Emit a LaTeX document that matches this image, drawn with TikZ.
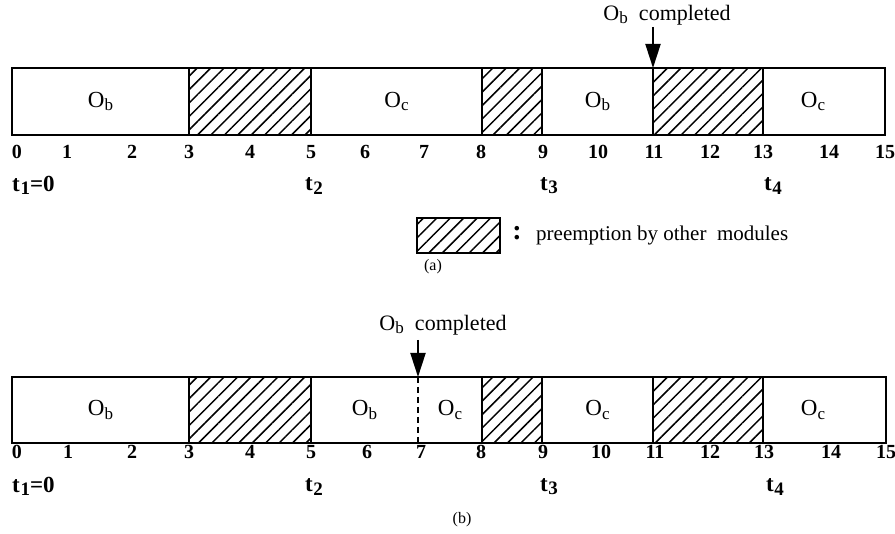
\documentclass[tikz,border=0pt]{standalone}
\usepackage{fontspec}
\setmainfont{Liberation Serif}
\usetikzlibrary{patterns.meta,arrows.meta}
\newcommand\Ob{O\kern0.01em\raisebox{-0.35ex}{\fontsize{17}{17}\selectfont b}}
\newcommand\Oc{O\kern0.01em\raisebox{-0.35ex}{\fontsize{17}{17}\selectfont c}}
\newcommand\tsub[1]{t\kern0.03em\raisebox{-0.3ex}{\fontsize{19}{19}\selectfont #1}}
\begin{document}
\begin{tikzpicture}[x=1pt,y=-1pt,
  seg/.style={minimum height=67pt, inner sep=0pt, outer sep=0pt, anchor=north west, font=\fontsize{23}{25}\selectfont},
  hatchbox/.style={seg, draw, line width=2.3pt, pattern={Lines[angle=45,distance=9.5pt,line width=1.5pt]}},
  barbox/.style={seg, draw, line width=2.5pt},
  num/.style={inner sep=0pt, font=\fontsize{20}{22}\selectfont\bfseries},
  tlab/.style={inner sep=0pt, font=\fontsize{23}{25}\selectfont\bfseries},
  txt/.style={inner sep=0pt, font=\fontsize{22}{24}\selectfont},
  pointer/.style={line width=2pt, -{Triangle[length=24pt,width=15pt]}}
]
\useasboundingbox (0,0) rectangle (895,534);

% ---------- panel (a) ----------
\node[barbox, minimum width=873pt] (barA) at (12,68) {};
\node[seg, minimum width=177pt] (a1) at (12,68) {\Ob};
\node[hatchbox, minimum width=122pt] (a2) at (189,68) {};
\node[seg, minimum width=171pt] (a3) at (311,68) {\Oc};
\node[hatchbox, minimum width=60pt] (a4) at (482,68) {};
\node[seg, minimum width=111pt] (a5) at (542,68) {\Ob};
\node[hatchbox, minimum width=110pt] (a6) at (653,68) {};
\node[seg, minimum width=100pt] (a7) at (763,68) {\Oc};

\node[txt] (ca) at (667,15) {\Ob\ \ completed};
\coordinate (ta) at (653,27);
\draw[pointer] (ta) -- (a6.north west);

\foreach \v/\xx in {0/17,1/67,2/132,3/189,4/250,5/311,6/365,7/424,8/481,9/543,10/598,11/654,12/710,13/763,14/829,15/885}
  \node[num] (na\v) at (\xx,152) {\v};

\node[tlab, anchor=west] (ta1) at (12,185) {\tsub{1}=0};
\node[tlab] (ta2) at (314,186) {\tsub{2}};
\node[tlab] (ta3) at (549,186) {\tsub{3}};
\node[tlab] (ta4) at (773,186) {\tsub{4}};

% legend
\node[hatchbox, minimum width=83pt, minimum height=35pt] (leg) at (417,218) {};
\node[inner sep=0pt, font=\fontsize{28}{28}\selectfont\bfseries] (colon) at (517,233) {:};
\node[inner sep=0pt, anchor=west, font=\fontsize{21}{23}\selectfont] (legtxt) at (536,235) {preemption by other\ \ modules};
\node[inner sep=0pt, font=\fontsize{16}{18}\selectfont] (capa) at (433,267) {(a)};

% ---------- panel (b) ----------
\node[barbox, minimum width=874pt, minimum height=66pt] (barB) at (12,377) {};
\node[seg, minimum width=177pt, minimum height=66pt] (b1) at (12,377) {\Ob};
\node[hatchbox, minimum width=122pt, minimum height=66pt] (b2) at (189,377) {};
\node[seg, minimum width=107pt, minimum height=66pt] (b3) at (311,377) {\Ob};
\node[seg, minimum width=64pt, minimum height=66pt] (b4) at (418,377) {\Oc};
\node[hatchbox, minimum width=60pt, minimum height=66pt] (b5) at (482,377) {};
\node[seg, minimum width=111pt, minimum height=66pt] (b6) at (542,377) {\Oc};
\node[hatchbox, minimum width=110pt, minimum height=66pt] (b7) at (653,377) {};
\node[seg, minimum width=100pt, minimum height=66pt] (b8) at (763,377) {\Oc};
\draw[line width=1.8pt, dash pattern=on 6pt off 4pt] (b4.north west) -- (b4.south west);

\node[txt] (cb) at (443,325) {\Ob\ \ completed};
\coordinate (tb) at (418,340);
\draw[pointer] (tb) -- (b4.north west);

\foreach \v/\xx in {0/17,1/68,2/132,3/189,4/250,5/311,6/367,7/421,8/481,9/543,10/601,11/655,12/710,13/764,14/831,15/886}
  \node[num] (nb\v) at (\xx,452) {\v};

\node[tlab, anchor=west] (tb1) at (12,486) {\tsub{1}=0};
\node[tlab] (tb2) at (314,487) {\tsub{2}};
\node[tlab] (tb3) at (549,487) {\tsub{3}};
\node[tlab] (tb4) at (775,487) {\tsub{4}};

\node[inner sep=0pt, font=\fontsize{16}{18}\selectfont] (capb) at (462,520) {(b)};
\end{tikzpicture}
\end{document}
